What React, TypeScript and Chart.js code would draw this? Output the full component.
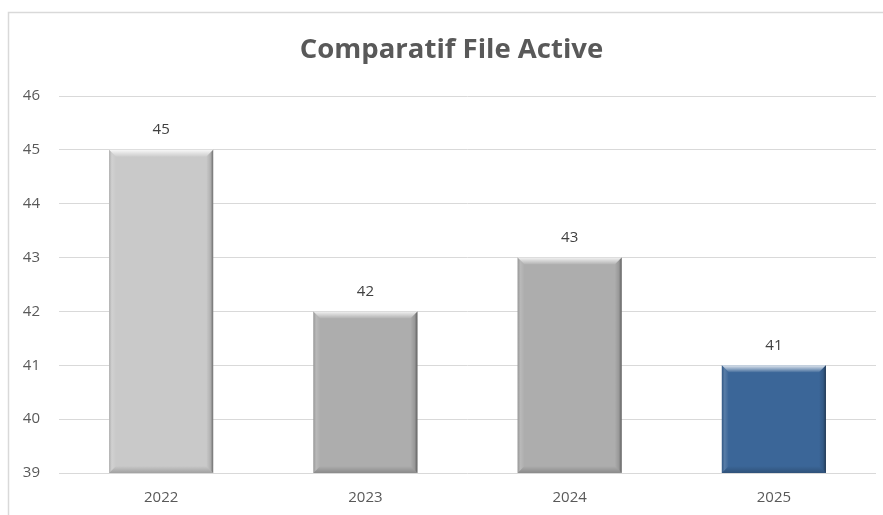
import React, { useEffect, useRef } from "react";
import { Chart, registerables } from "chart.js";

Chart.register(...registerables);

const categories = ["2022", "2023", "2024", "2025"];
const values = [45, 42, 43, 41];
const barColors = ["#c9c9c9", "#adadad", "#adadad", "#3b6698"];
const chartTitle = "Comparatif File Active";
const yMin = 39;
const yMax = 46;

const framePlugin = {
  id: "frame",
  afterLayout(chart: any) {
    // centre the title on the outer frame (which extends past the canvas)
    const tb = chart.titleBlock;
    if (tb) {
      tb.left = 8;
      tb.right = 895;
      tb.width = tb.right - tb.left;
    }
  },
  beforeDraw(chart: any) {
    const ctx = chart.ctx;
    ctx.save();
    ctx.fillStyle = "#ffffff";
    ctx.fillRect(0, 0, chart.width, chart.height);
    ctx.strokeStyle = "#d9d9d9";
    ctx.lineWidth = 1.5;
    ctx.strokeRect(8.5, 12.5, chart.width + 20, chart.height + 20);
    ctx.restore();
  },
};

const bevelPlugin = {
  id: "bevel",
  afterDatasetsDraw(chart: any) {
    const ctx = chart.ctx;
    const area = chart.chartArea;
    const meta = chart.getDatasetMeta(0);
    meta.data.forEach((bar: any) => {
      const { x, y, base, width } = bar.getProps(["x", "y", "base", "width"], true);
      const l = x - width / 2;
      const r = x + width / 2;
      const t = Math.max(y, area.top);
      const bt = Math.min(base, area.bottom);
      const b = 7;
      ctx.save();
      // top bevel
      let g = ctx.createLinearGradient(0, t, 0, t + b);
      g.addColorStop(0, "rgba(255,255,255,0.85)");
      g.addColorStop(1, "rgba(255,255,255,0.05)");
      ctx.fillStyle = g;
      ctx.beginPath();
      ctx.moveTo(l, t);
      ctx.lineTo(r, t);
      ctx.lineTo(r - b, t + b);
      ctx.lineTo(l + b, t + b);
      ctx.closePath();
      ctx.fill();
      // left bevel
      g = ctx.createLinearGradient(l, 0, l + b, 0);
      g.addColorStop(0, "rgba(0,0,0,0.12)");
      g.addColorStop(0.4, "rgba(255,255,255,0.15)");
      g.addColorStop(1, "rgba(255,255,255,0.0)");
      ctx.fillStyle = g;
      ctx.beginPath();
      ctx.moveTo(l, t);
      ctx.lineTo(l + b, t + b);
      ctx.lineTo(l + b, bt - b);
      ctx.lineTo(l, bt);
      ctx.closePath();
      ctx.fill();
      // right bevel
      g = ctx.createLinearGradient(r - b, 0, r, 0);
      g.addColorStop(0, "rgba(0,0,0,0.0)");
      g.addColorStop(0.6, "rgba(0,0,0,0.12)");
      g.addColorStop(1, "rgba(0,0,0,0.45)");
      ctx.fillStyle = g;
      ctx.beginPath();
      ctx.moveTo(r, t);
      ctx.lineTo(r, bt);
      ctx.lineTo(r - b, bt - b);
      ctx.lineTo(r - b, t + b);
      ctx.closePath();
      ctx.fill();
      // bottom bevel
      g = ctx.createLinearGradient(0, bt - b, 0, bt);
      g.addColorStop(0, "rgba(0,0,0,0.0)");
      g.addColorStop(1, "rgba(0,0,0,0.2)");
      ctx.fillStyle = g;
      ctx.beginPath();
      ctx.moveTo(l, bt);
      ctx.lineTo(r, bt);
      ctx.lineTo(r - b, bt - b);
      ctx.lineTo(l + b, bt - b);
      ctx.closePath();
      ctx.fill();
      ctx.restore();
    });
  },
};

const labelPlugin = {
  id: "valueLabels",
  afterDatasetsDraw(chart: any) {
    const ctx = chart.ctx;
    const meta = chart.getDatasetMeta(0);
    ctx.save();
    ctx.font = "15px 'Open Sans', sans-serif";
    ctx.fillStyle = "#404040";
    ctx.textAlign = "center";
    ctx.textBaseline = "middle";
    meta.data.forEach((bar: any, i: number) => {
      ctx.fillText(String(values[i]), bar.x, bar.y - 20);
    });
    ctx.restore();
  },
};

export default function App() {
  const canvasRef = useRef<HTMLCanvasElement | null>(null);

  useEffect(() => {
    if (!canvasRef.current) return;
    const chart = new Chart(canvasRef.current, {
      type: "bar",
      data: {
        labels: categories,
        datasets: [
          {
            data: values,
            backgroundColor: barColors,
            borderWidth: 0,
            barPercentage: 0.51,
            categoryPercentage: 1,
          },
        ],
      },
      options: {
        animation: false,
        responsive: false,
        maintainAspectRatio: false,
        layout: { padding: { top: 12, left: 0, right: 7, bottom: 0 } },
        plugins: {
          legend: { display: false },
          tooltip: { enabled: false },
          title: {
            display: true,
            text: chartTitle,
            color: "#595959",
            font: { family: "'Open Sans', sans-serif", size: 27.5, weight: "bold", lineHeight: 1.2 },
            padding: { top: 21.5, bottom: 29.5 },
          },
        },
        scales: {
          x: {
            grid: { display: false, drawTicks: false },
            border: { display: false },
            ticks: {
              color: "#595959",
              font: { family: "'Open Sans', sans-serif", size: 15 },
              padding: 16,
            },
            afterFit(scale: any) {
              scale.height = 42;
            },
          },
          y: {
            min: yMin,
            max: yMax,
            grid: { color: "#d9d9d9", lineWidth: 1, drawTicks: false },
            border: { display: false },
            ticks: {
              stepSize: 1,
              color: "#595959",
              font: { family: "'Open Sans', sans-serif", size: 15 },
              padding: 19,
            },
            afterFit(scale: any) {
              scale.width = 59;
            },
          },
        },
      },
      plugins: [framePlugin, bevelPlugin, labelPlugin],
    });
    return () => chart.destroy();
  }, []);

  return (
    <canvas
      ref={canvasRef}
      width={883}
      height={515}
      style={{ position: "fixed", left: 0, top: 0, width: 883, height: 515, display: "block" }}
    />
  );
}
